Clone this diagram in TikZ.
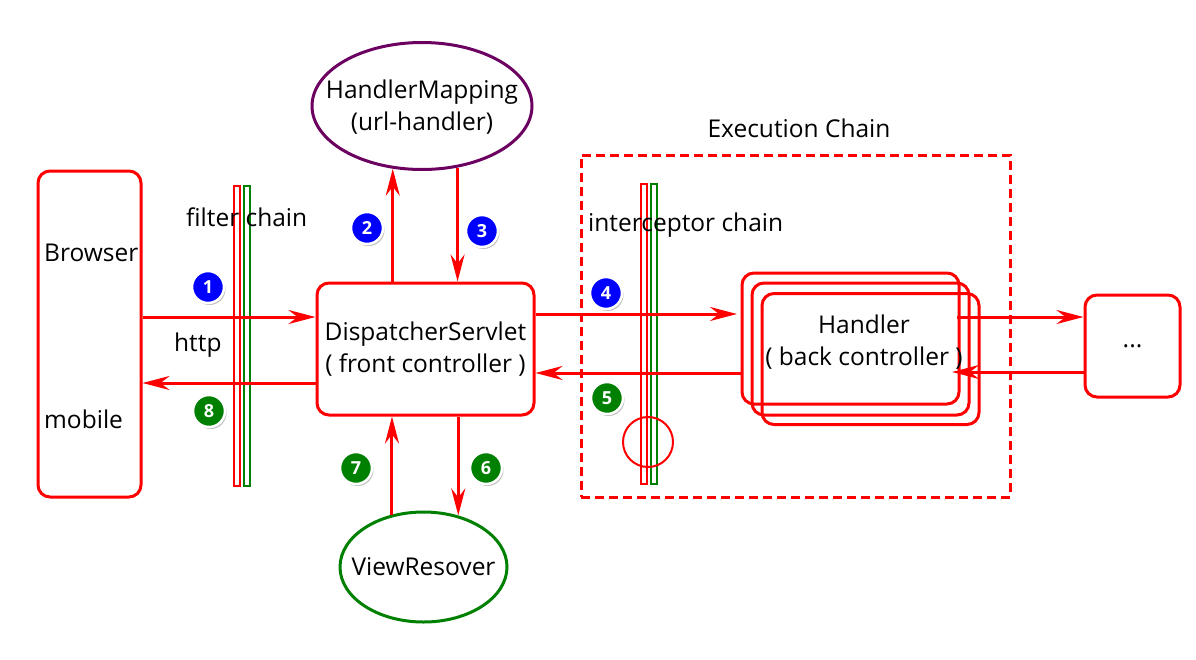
\documentclass[tikz,border=0pt]{standalone}
\usepackage{fontspec}
\setmainfont{Open Sans}
\usetikzlibrary{arrows.meta,shapes.geometric,shadows}

\begin{document}
\begin{tikzpicture}[x=1pt,y=-1pt,
    font=\fontsize{24.5}{32}\selectfont,
    box/.style={draw=red, line width=3pt, rounded corners=12pt, inner sep=0pt},
    oval/.style={ellipse, line width=3pt, inner sep=0pt},
    arr/.style={draw=red, line width=3pt, -{Stealth[length=27pt,width=14pt,inset=9pt]}},
    bar/.style={draw=#1, line width=2pt, minimum width=6pt, minimum height=300pt, inner sep=0pt},
    num/.style={circle, fill=#1, draw=white, line width=2.5pt, minimum size=32pt, inner sep=0pt,
      text=white, font=\fontsize{18}{18}\selectfont\bfseries,
      drop shadow={shadow xshift=1.5pt, shadow yshift=-2pt, opacity=0.5}},
    lbl/.style={inner sep=0pt, anchor=west}]

  \useasboundingbox (0,0) rectangle (1196,659);

  % Browser side
  \node[box, minimum width=103pt, minimum height=326pt] (browser) at (89.5,334) {};
  \node[lbl] (tb) at (44,253) {Browser};
  \node[lbl] (tm) at (44,419) {mobile};

  % filter chain
  \node[bar=red]   (f1) at (236.5,336) {};
  \node[bar=green!50!black] (f2) at (246.5,336) {};
  \node[lbl] (tf) at (186,217) {filter chain};
  \node[lbl] (th) at (174,345) {http};

  % front controller, mapping and view
  \node[box, minimum width=217pt, minimum height=132pt, align=center] (ds) at (425.5,349)
    {DispatcherServlet\\( front controller )};
  \node[oval, draw=purple!70!blue!80!black, minimum width=220pt, minimum height=127pt] (hm) at (422,106) {};
  \node[align=center, inner sep=0pt] (thm) at (422,107) {HandlerMapping\\(url-handler)};
  \node[oval, draw=green!50!black, minimum width=167pt, minimum height=110pt] (vr) at (423.5,567) {};
  \node[inner sep=0pt] (tvr) at (vr) {ViewResover};

  % execution chain
  \node[draw=red, line width=3pt, dash pattern=on 9pt off 5pt, minimum width=429pt,
    minimum height=342pt, inner sep=0pt] (exec) at (795.5,326) {};
  \node[inner sep=0pt] (te) at (799,128) {Execution Chain};
  \node[bar=red]   (i1) at (644,334) {};
  \node[bar=green!50!black] (i2) at (654,334) {};
  \node[lbl] (ti) at (588,225) {interceptor chain};
  \node[circle, draw=red, line width=2pt, minimum size=50pt, inner sep=0pt] (ic) at (648,442) {};

  % handlers
  \node[box, minimum width=217pt, minimum height=131pt] (h3) at (870.5,359) {};
  \node[box, minimum width=217pt, minimum height=132pt] (h2) at (860.5,349) {};
  \node[box, minimum width=217pt, minimum height=131pt] (h1) at (850.5,338.5) {};
  \node[align=center, inner sep=0pt] (th1) at (864,342) {Handler\\( back controller )};
  \node[box, minimum width=95pt, minimum height=102pt] (more) at (1132.5,346) {...};

  % arrows
  \draw[arr] (browser.east |- 0,317) -- (ds.west |- 0,317);
  \draw[arr] (ds.west |- 0,383) -- (browser.east |- 0,383);
  \draw[arr] (hm.245 |- ds.north) -- (hm.245);
  \draw[arr] (hm.300) -- (hm.300 |- ds.north);
  \draw[arr] (ds.east |- 0,314) -- (737,314);
  \draw[arr] (h1.west |- 0,373) -- (ds.east |- 0,373);
  \draw[arr] (957,317) -- (more.west |- 0,317);
  \draw[arr] (more.west |- 0,372) -- (952,372);
  \draw[arr] (vr.56 |- ds.south) -- (vr.56);
  \draw[arr] (vr.121) -- (vr.121 |- ds.south);

  % step numbers
  \node[num=blue] (n1) at (208,287) {1};
  \node[num=blue] (n2) at (367,228) {2};
  \node[num=blue] (n3) at (482,231) {3};
  \node[num=blue] (n4) at (606,293) {4};
  \node[num=green!50!black] (n5) at (607,398) {5};
  \node[num=green!50!black] (n6) at (486,468) {6};
  \node[num=green!50!black] (n7) at (356,468) {7};
  \node[num=green!50!black] (n8) at (209,411) {8};
\end{tikzpicture}
\end{document}
